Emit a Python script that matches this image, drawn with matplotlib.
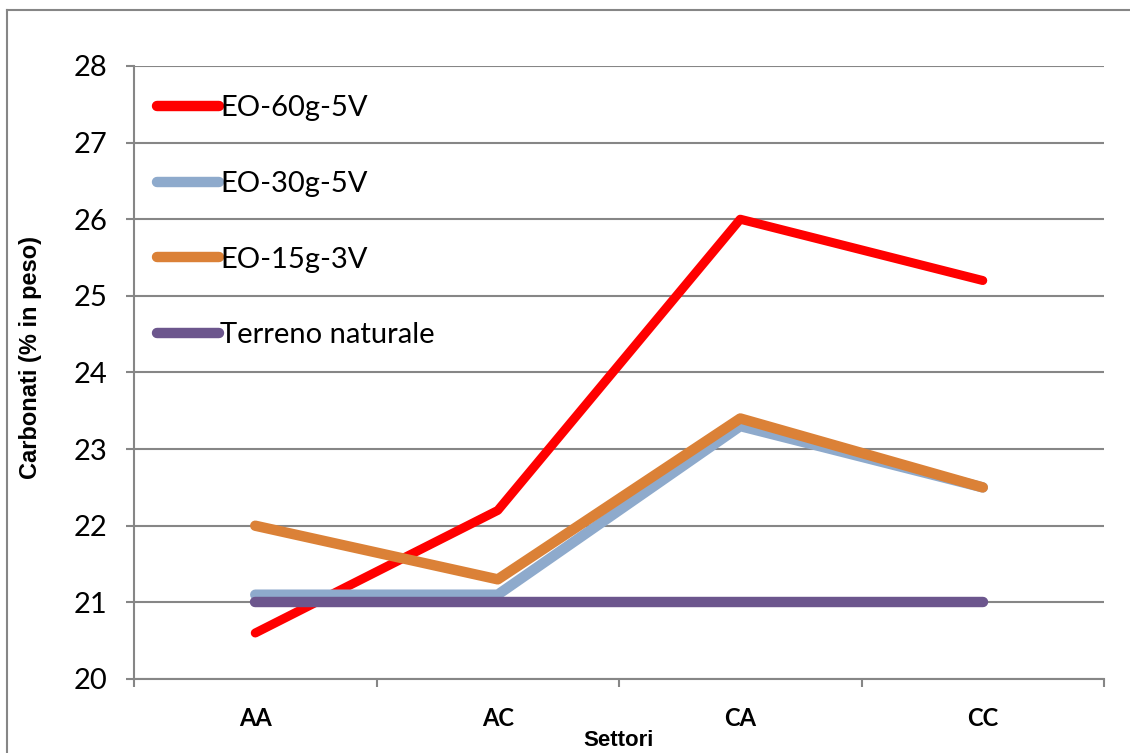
import numpy as np
import matplotlib.pyplot as plt
from matplotlib.lines import Line2D

settori = ["AA", "AC", "CA", "CC"]
eo_60g_5v = [20.6, 22.2, 26.0, 25.2]
eo_30g_5v = [21.1, 21.1, 23.3, 22.5]
eo_15g_3v = [22.0, 21.3, 23.4, 22.5]
terreno_naturale = [21.0, 21.0, 21.0, 21.0]
y_ticks = [20, 21, 22, 23, 24, 25, 26, 27, 28]

grey = "#868686"

fig = plt.figure(figsize=(11.3, 7.53), dpi=100)
ax = fig.add_axes([0.1186, 0.0983, 0.8584, 0.8141])

x = np.arange(len(settori))
series = [
    ("EO-60g-5V", eo_60g_5v, "#ff0000", 6.5),
    ("EO-30g-5V", eo_30g_5v, "#8eaacc", 7.5),
    ("EO-15g-3V", eo_15g_3v, "#db8137", 7.5),
    ("Terreno naturale", terreno_naturale, "#6c568d", 7.5),
]
for name, vals, col, lw in series:
    ax.plot(x, vals, color=col, lw=lw, label=name,
            solid_capstyle="round", solid_joinstyle="round", zorder=3)

ax.set_xlim(-0.5, len(settori) - 0.5)
ax.set_ylim(20, 28)
ax.set_yticks(y_ticks)
ax.set_yticklabels([str(v) for v in y_ticks], fontfamily="Lato", fontsize=21)
ax.yaxis.grid(True, color=grey, lw=1.5, zorder=0)

# category labels in the middle, tick marks on the boundaries
ax.set_xticks(x)
ax.set_xticklabels(settori, fontfamily="Lato", fontweight="bold", fontsize=17)
ax.set_xticks(np.arange(-0.5, len(settori)), minor=True)
ax.tick_params(axis="x", which="major", length=0, pad=20)
ax.tick_params(axis="x", which="minor", length=6, width=1.5, color=grey, direction="out")
ax.tick_params(axis="y", length=6, width=1.5, color=grey, direction="out", pad=13)

for s in ["top", "right"]:
    ax.spines[s].set_visible(False)
for s in ["left", "bottom"]:
    ax.spines[s].set_color(grey)
    ax.spines[s].set_linewidth(1.5)

ax.set_ylabel("Carbonati (% in peso)", fontfamily="Liberation Sans",
              fontweight="bold", fontsize=17)
ax.yaxis.set_label_coords(-0.095, 0.525)
ax.set_xlabel("Settori", fontfamily="Liberation Sans", fontweight="bold",
              fontsize=16, labelpad=0)

leg = ax.legend(loc="upper left", bbox_to_anchor=(0.0, 0.99), frameon=False,
                prop={"family": "Lato", "size": 21}, handlelength=2.1,
                handletextpad=0.05, labelspacing=1.7, borderaxespad=0.4)
for h in leg.get_lines():
    h.set_linewidth(7.5)

# chart area border
fig.add_artist(Line2D([7 / 1130, 7 / 1130], [-0.1, 1 - 10 / 753],
                      transform=fig.transFigure, color=grey, lw=1.5))
fig.add_artist(Line2D([7 / 1130, 1.1], [1 - 10 / 753, 1 - 10 / 753],
                      transform=fig.transFigure, color=grey, lw=1.5))

fig.savefig("out.png", dpi=100)
